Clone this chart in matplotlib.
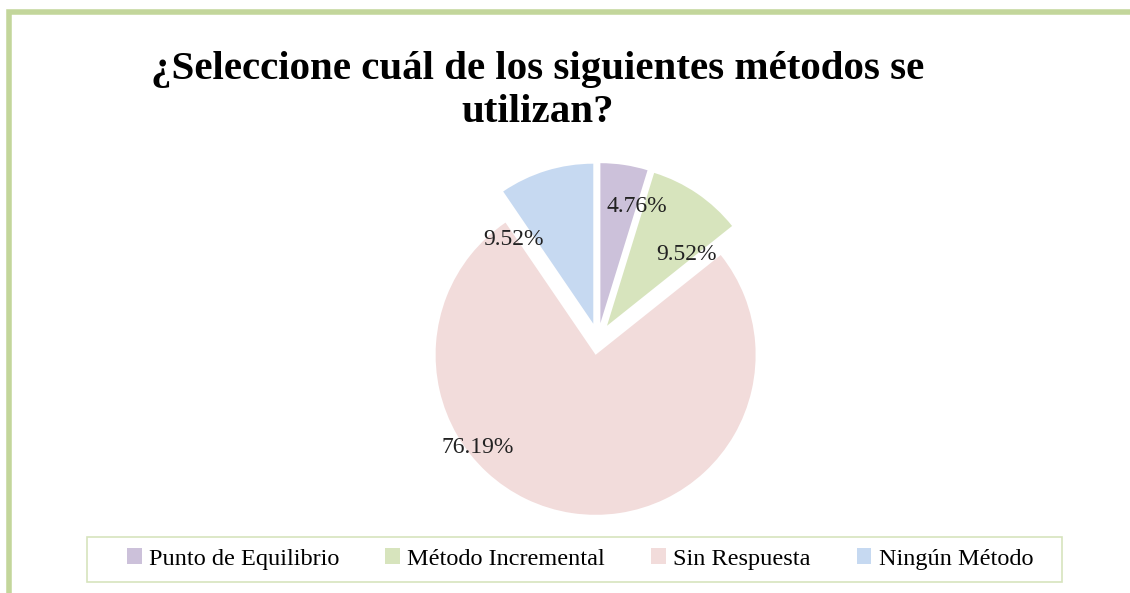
import numpy as np
import matplotlib.pyplot as plt
from matplotlib.patches import Rectangle

# data
categories = ["Punto de Equilibrio", "Método Incremental", "Sin Respuesta", "Ningún Método"]
values = [4.76, 9.52, 76.19, 9.52]
colors = ["#CCC1DA", "#D7E4BD", "#F2DCDB", "#C6D9F1"]
# label spots (data units, pie radius = 1)
label_pos = [(0.244, 0.825), (0.556, 0.531), (-0.75, -0.681), (-0.531, 0.619)]

title = "¿Seleccione cuál de los siguientes métodos se\nutilizan?"

W, H = 1130, 593
fig = plt.figure(figsize=(W / 100, H / 100), dpi=100)
fig.patch.set_facecolor("white")

# green frame, top and left edge only (rest is cut off)
frame = Rectangle((8.5 / W, -0.1), 1.2, (H - 12.5) / H + 0.1, transform=fig.transFigure,
                  fill=False, edgecolor="#C3D69B", linewidth=4)
fig.add_artist(frame)

# pie axes: center at (598, 339) px, radius 160 px
cx, cy, R = 598, 339, 160
half = 1.25 * R
ax = fig.add_axes([(cx - half) / W, (H - cy - half) / H, 2 * half / W, 2 * half / H])
ax.axis("off")

vals_iter = iter(values)
wedges, texts, autotexts = ax.pie(values, colors=colors, startangle=90, counterclock=False,
                                  explode=[0.1] * 4, radius=1,
                                  autopct=lambda p: "%.2f%%" % next(vals_iter), pctdistance=0.7,
                                  wedgeprops=dict(edgecolor="none"),
                                  textprops=dict(fontsize=17, family="Liberation Serif", color="#222222"))
for t, (x, y) in zip(autotexts, label_pos):
    t.set_position((x, y))
    t.set_ha("center")
    t.set_va("center")
ax.set_xlim(-1.25, 1.25)
ax.set_ylim(-1.25, 1.25)
ax.set_aspect("equal")

fig.text(538 / W, 1 - 91 / H, title, ha="center", va="center", fontsize=29.5,
         fontweight="bold", family="Liberation Serif", linespacing=1.2)

# legend box
box = Rectangle((87 / W, 1 - 582 / H), 975 / W, 45 / H, transform=fig.transFigure,
                fill=False, edgecolor="#D7E4BD", linewidth=1.2)
fig.add_artist(box)
leg = fig.legend(wedges, categories, loc="center", ncol=4,
                 bbox_to_anchor=(580 / W, 1 - 559 / H),
                 prop=dict(family="Liberation Serif", size=17.5),
                 handlelength=0.6, handleheight=0.6, handletextpad=0.3,
                 columnspacing=1.9, frameon=False)

fig.savefig("out.png", dpi=100)
